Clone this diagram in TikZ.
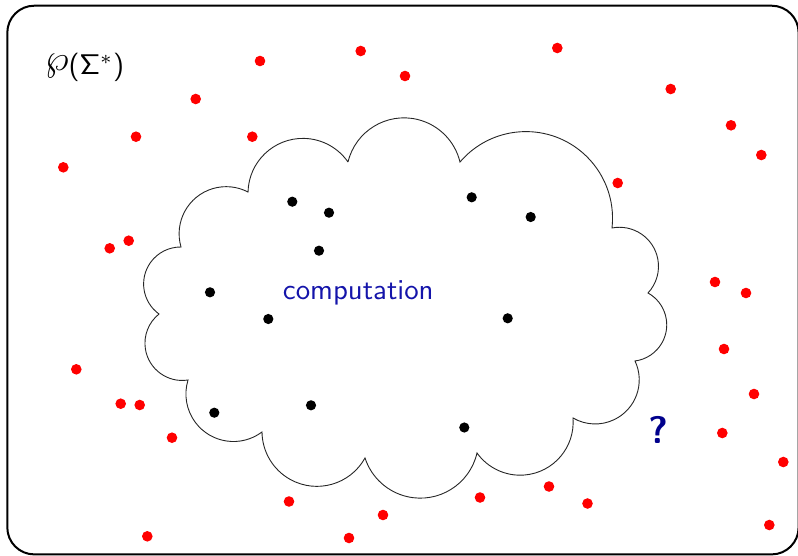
\documentclass[tikz,border=0pt]{standalone}
\usepackage{fontspec}
\usepackage{graphicx}
\usetikzlibrary{calc}
\definecolor{dotred}{RGB}{255,0,0}
\definecolor{txtblue}{RGB}{20,20,170}
\definecolor{qblue}{RGB}{0,0,140}
\newcommand\cmssfam{\fontencoding{OT1}\fontfamily{cmss}\selectfont}
\tikzset{
  bump/.style n args={3}{insert path={let \p1=(#1), \p2=(#2),
      \n1={atan2(\y2-\y1,\x2-\x1)},
      \n2={veclen(\x2-\x1,\y2-\y1)/(2*sin(#3/2))} in
      arc[start angle=\n1+90+#3/2, end angle=\n1+90-#3/2, radius=\n2]}},
  reddot/.style={fill=dotred},
  blackdot/.style={fill=black},
  frame/.style={line width=2pt, rounded corners=27pt},
  cloudline/.style={line width=0.9pt, draw=black!85},
}
\begin{document}
\begin{tikzpicture}[x=1pt,y=1pt]
\useasboundingbox (0,0) rectangle (798,-555);
\draw[frame] (7.3,-5.7) rectangle (798.6,-554.4);

% cloud cusps
\coordinate (C1) at (348,-162);
\coordinate (C2) at (460,-162);
\coordinate (C3) at (612,-228);
\coordinate (C4) at (648,-293);
\coordinate (C5) at (635,-361);
\coordinate (C6) at (573,-418);
\coordinate (C7) at (477,-453);
\coordinate (C8) at (365,-458);
\coordinate (C9) at (262,-432);
\coordinate (C10) at (188,-380);
\coordinate (C11) at (159,-314);
\coordinate (C12) at (181,-247);
\coordinate (C13) at (248,-192);

\draw[cloudline] (C1) [bump={C1}{C2}{153}] [bump={C2}{C3}{146}]
  [bump={C3}{C4}{144}] [bump={C4}{C5}{143.5}] [bump={C5}{C6}{145.5}]
  [bump={C6}{C7}{149}] [bump={C7}{C8}{149}] [bump={C8}{C9}{150.5}]
  [bump={C9}{C10}{144}] [bump={C10}{C11}{150.5}] [bump={C11}{C12}{145}]
  [bump={C12}{C13}{134}] [bump={C13}{C1}{144}];

% red dots
\foreach \x/\y in {360.7/51, 557.3/48, 260/61, 405/76, 195.7/99, 670.7/89,
  136/136.7, 252.3/136.7, 731/125.3, 761.3/155, 63.3/167.3, 617.7/183,
  128.7/240.7, 109.7/248.3, 715/282, 746/293, 724/349, 76.3/369.3, 754/394,
  120.7/403.7, 139.7/405, 172/437.7, 722.3/433, 783.3/462, 289/501.5,
  549/486.5, 480/497.5, 587.5/503.5, 383/515, 769.3/525, 147.3/536.3, 349/538}
  \fill[reddot] (\x,-\y) circle[radius=5.3];

% black dots
\foreach \x/\y in {292.3/201.7, 329/212.7, 319/250.7, 210/292.3, 268.3/319,
  471.7/197.3, 530.7/217, 507.7/318.3, 214.3/412.7, 311/405.3, 464.3/427.5}
  \fill[blackdot] (\x,-\y) circle[radius=5.1];

\node[anchor=base, scale=2.84, inner sep=0pt] (pset) at (84.7,-74.6)
  {\raisebox{1.3pt}{\scalebox{1.3}{$\wp$}}{\cmssfam(\char6}$^*${\cmssfam)}};
\node[anchor=base, scale=2.88, inner sep=0pt, text=txtblue, font=\sffamily] (comp) at (358.3,-299.3) {computation};
\node[anchor=base, scale=3.84, inner sep=0pt, text=qblue, font=\sffamily\bfseries] (quest) at (658,-443.3) {?};
\end{tikzpicture}
\end{document}
